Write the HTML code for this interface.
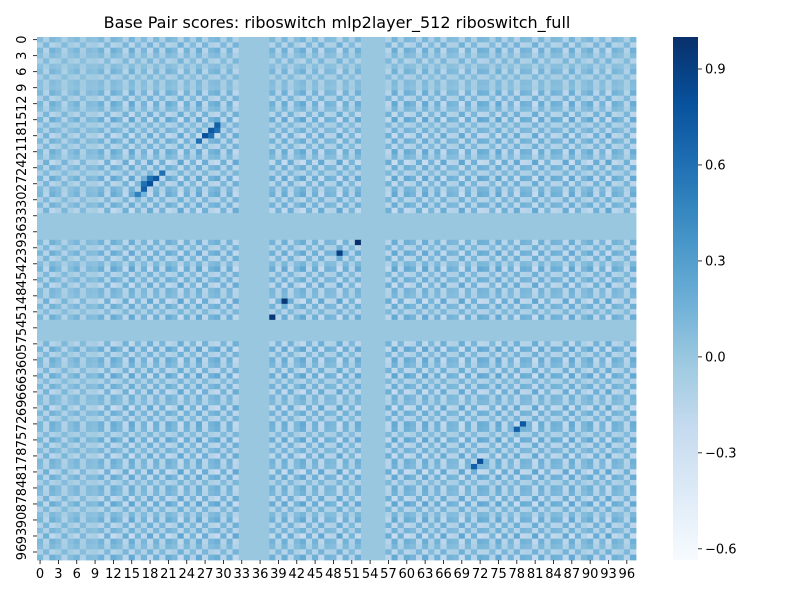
<!DOCTYPE html>
<html><head><meta charset="utf-8"><style>
body{margin:0;background:#fff}
svg{display:block;font-family:"DejaVu Sans","Liberation Sans",sans-serif}
</style></head><body>
<svg id="chart" width="800" height="600" viewBox="0 0 800 600">
<text x="337" y="28" font-size="16" text-anchor="middle">Base Pair scores: riboswitch mlp2layer_512 riboswitch_full</text>
<g id="cells"></g>
<g id="xaxis"></g>
<g id="yaxis"></g>
<defs><linearGradient id="cbg" x1="0" y1="1" x2="0" y2="0">
<stop offset="0" stop-color="#f7fbff"/><stop offset="0.125" stop-color="#deebf7"/><stop offset="0.25" stop-color="#c6dbef"/><stop offset="0.375" stop-color="#9ecae1"/><stop offset="0.5" stop-color="#6baed6"/><stop offset="0.625" stop-color="#4292c6"/><stop offset="0.75" stop-color="#2171b5"/><stop offset="0.875" stop-color="#08519c"/><stop offset="1" stop-color="#08306b"/></linearGradient></defs>
<rect x="673" y="37" width="25" height="523" fill="url(#cbg)"/>
<g id="cbaxis"></g>
</svg>
<script>
const nSeq = 98;
const dev = [0.5,-0.6,0.7,0.4,-0.5,0.3,0.6,-0.4,0.4,0.3,
0.7,-0.6,0.8,0.5,-0.7,0.9,-0.5,0.6,-0.8,0.7,
-0.6,0.8,0.5,-0.9,0.7,-0.5,0.9,-0.7,0.6,0.8,
-0.6,0.7,-0.8,0,0,0,0,0,0.7,-0.6,
0.8,-0.7,0.5,0.9,-0.6,0.7,-0.8,0.6,0.5,-0.9,
0.7,-0.5,0.8,0,0,0,0,-0.7,0.9,-0.6,
0.8,0.6,-0.7,0.9,-0.5,0.7,-0.8,0.6,0.5,-0.9,
0.7,-0.6,0.8,0.7,-0.5,0.9,-0.7,0.6,-0.8,0.7,
0.6,-0.9,0.8,-0.5,0.7,0.6,-0.8,0.9,-0.6,0.5,
0.8,-0.7,0.6,-0.9,0.7,0.5,-0.6,0.8];
const highRows = [16,17,18,19,17,18,25,26,27,28,29,26,27,38,40,49,52,72,73,79,80];
const highCols = [29,28,27,26,29,28,20,19,18,17,16,18,17,52,49,40,38,79,78,72,71];
const highVals = [0.7,0.75,0.8,0.6,0.6,0.6,0.6,0.75,0.8,0.7,0.5,0.6,0.6,1.0,0.9,0.95,0.95,0.75,0.7,0.8,0.7];
const cbTicks = [-0.6,-0.3,0.0,0.3,0.6,0.9];
const vmin = -0.635, vmax = 1.0;

const L=37,T=37,W=599,H=523;
const cw=W/nSeq, ch=H/nSeq;
const xs=j=>L+j*cw, ys=i=>T+i*ch;
const stops=["#f7fbff","#deebf7","#c6dbef","#9ecae1","#6baed6","#4292c6","#2171b5","#08519c","#08306b"].map(h=>[1,3,5].map(k=>parseInt(h.substr(k,2),16)));
function cmap(v){let t=(v-vmin)/(vmax-vmin);t=Math.max(0,Math.min(1,t))*8;const k=Math.min(7,Math.floor(t)),f=t-k;const a=stops[k],b=stops[k+1];return `rgb(${a.map((c,i)=>Math.round(c+(b[i]-c)*f)).join(',')})`;}
const NS="http://www.w3.org/2000/svg";
function mk(tag,attrs,parent){const e=document.createElementNS(NS,tag);for(const k in attrs)e.setAttribute(k,attrs[k]);parent.appendChild(e);return e;}
const vals=[];
for(let i=0;i<nSeq;i++){vals.push([]);for(let j=0;j<nSeq;j++)vals[i].push(0.3*dev[i]*dev[j]);}
for(let k=0;k<highRows.length;k++)vals[highRows[k]][highCols[k]]=highVals[k];
const cells=document.getElementById('cells');
for(let i=0;i<nSeq;i++)for(let j=0;j<nSeq;j++){
  const r=mk('rect',{x:xs(j).toFixed(2),y:ys(i).toFixed(2),width:(cw+0.4).toFixed(2),height:(ch+0.4).toFixed(2),fill:cmap(vals[i][j])},cells);
  
  
}
const xa=document.getElementById('xaxis'),ya=document.getElementById('yaxis');
for(let i=0;i<nSeq;i+=3){
  const cx=xs(i+0.5), cy=ys(i+0.5);
  mk('line',{x1:cx,x2:cx,y1:T+H,y2:T+H+4,stroke:'#000','stroke-width':0.8},xa);
  const tx=mk('text',{x:cx,y:T+H+18,'font-size':13,'text-anchor':'middle'},xa);tx.textContent=i;
  
  
  mk('line',{x1:L-4,x2:L,y1:cy,y2:cy,stroke:'#000','stroke-width':0.8},ya);
  const ty=mk('text',{x:0,y:0,'font-size':13,'text-anchor':'middle',transform:`translate(26,${cy}) rotate(-90)`},ya);ty.textContent=i;
  
  
}
const cb=document.getElementById('cbaxis');
cbTicks.forEach(v=>{const y=T+(vmax-v)/(vmax-vmin)*H;
  mk('line',{x1:698,x2:702,y1:y,y2:y,stroke:'#000','stroke-width':0.8},cb);
  const t=mk('text',{x:705,y:y+4.5,'font-size':13},cb);t.textContent=(v<0?'\u2212':'')+Math.abs(v).toFixed(1);
  
  
});
</script>
</body></html>
